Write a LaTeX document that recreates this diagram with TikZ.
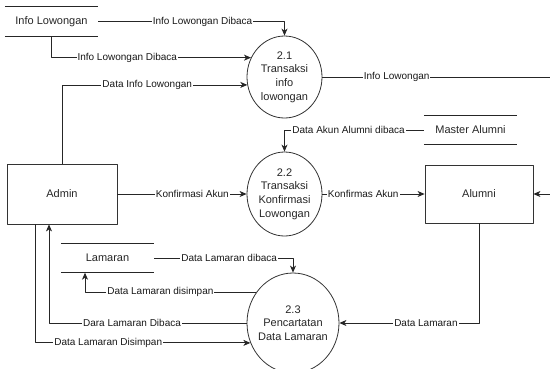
\documentclass[tikz,border=0pt]{standalone}
\usepackage{fontspec}
\setmainfont{Liberation Sans}
\usetikzlibrary{arrows.meta,shapes.geometric}

\begin{document}
\begin{tikzpicture}[x=1pt,y=-1pt,line join=round,
		font=\fontsize{10}{12}\selectfont,
		proses/.style={ellipse,draw=black!80,line width=0.8pt,align=center,inner sep=0pt,font=\fontsize{11}{13.7}\selectfont,text=black!85},
		entitas/.style={rectangle,draw=black!80,line width=0.8pt,font=\fontsize{11}{13}\selectfont,text=black!85},
		simpan/.style={minimum width=93pt,minimum height=29pt,inner sep=0pt,font=\fontsize{11}{13}\selectfont,text=black!85},
		garis/.style={draw=black!85,line width=0.8pt},
		alur/.style={garis,-{Stealth[length=7pt,width=6pt,inset=2pt]}},
		ket/.style={fill=white,inner sep=1pt,text=black!90}]
	\useasboundingbox (0,0) rectangle (550,368);
	\clip (0,0) rectangle (550,368);
	% Tempat simpan data
	\node[simpan] (infolow) at (51.5,21.5) {Info Lowongan};
	\node[simpan] (malumni) at (470.5,130) {Master Alumni};
	\node[simpan] (lamaran) at (107.5,258) {Lamaran};
	\foreach \s in {infolow,malumni,lamaran}
		\draw[garis] (\s.north west) -- (\s.north east) (\s.south west) -- (\s.south east);
	
	% Entitas luar
	\node[entitas,minimum width=110pt,minimum height=60pt] (admin) at (62,194) {Admin};
	\node[entitas,minimum width=108pt,minimum height=58pt] (alumni) at (479,194) {Alumni};
	
	% Proses
	\node[proses,minimum width=75pt,minimum height=82pt] (p21) at (284.5,77) {2.1\\Transaksi\\info\\lowongan};
	\node[proses,minimum width=75pt,minimum height=84pt] (p22) at (284.5,194) {2.2\\Transaksi\\Konfirmasi\\Lowongan};
	\node[proses,minimum width=92pt,minimum height=100pt,inner xsep=-2.5pt] (p23) at (293,323) {2.3\\Pencartatan\\Data Lamaran};
	
	% Alur data proses 2.1
	\draw[alur] (infolow.east) -| node[ket,pos=0.28]{Info Lowongan Dibaca} (p21.north);
	\draw[alur] (infolow.south) |- node[ket,pos=0.69]{Info Lowongan Dibaca} (p21.150);
	\draw[alur] (admin.north) |- node[ket,pos=0.73]{Data Info Lowongan} (p21.192);
	\coordinate (belok) at (570,77);
	\draw[alur] (p21.east) -- node[ket,pos=0.3]{Info Lowongan} (belok) |- (alumni.east);
	
	% Alur data proses 2.2
	\draw[alur] (malumni.west) -| node[ket,pos=0.27]{Data Akun Alumni dibaca} (p22.north);
	\draw[alur] (admin) -- node[ket,pos=0.58]{Konfirmasi Akun} (p22);
	\draw[alur] (p22) -- node[ket,pos=0.4]{Konfirmas Akun} (alumni);
	
	% Alur data proses 2.3
	\draw[alur] (alumni.south) |- node[ket,pos=0.69]{Data Lamaran} (p23.east);
	\draw[alur] (lamaran.east) -| node[ket,pos=0.27]{Data Lamaran dibaca} (p23.north);
	\draw[alur] (p23.140) -| node[ket,pos=0.28]{Data Lamaran disimpan} ([xshift=-22.5pt]lamaran.south);
	\draw[alur] (p23.west) -| node[ket,pos=0.29]{Dara Lamaran Dibaca} ([xshift=-13pt]admin.south);
	\draw[alur] ([xshift=-27pt]admin.south) |- node[ket,pos=0.67]{Data Lamaran Disimpan} (p23.205);
\end{tikzpicture}
\end{document}
